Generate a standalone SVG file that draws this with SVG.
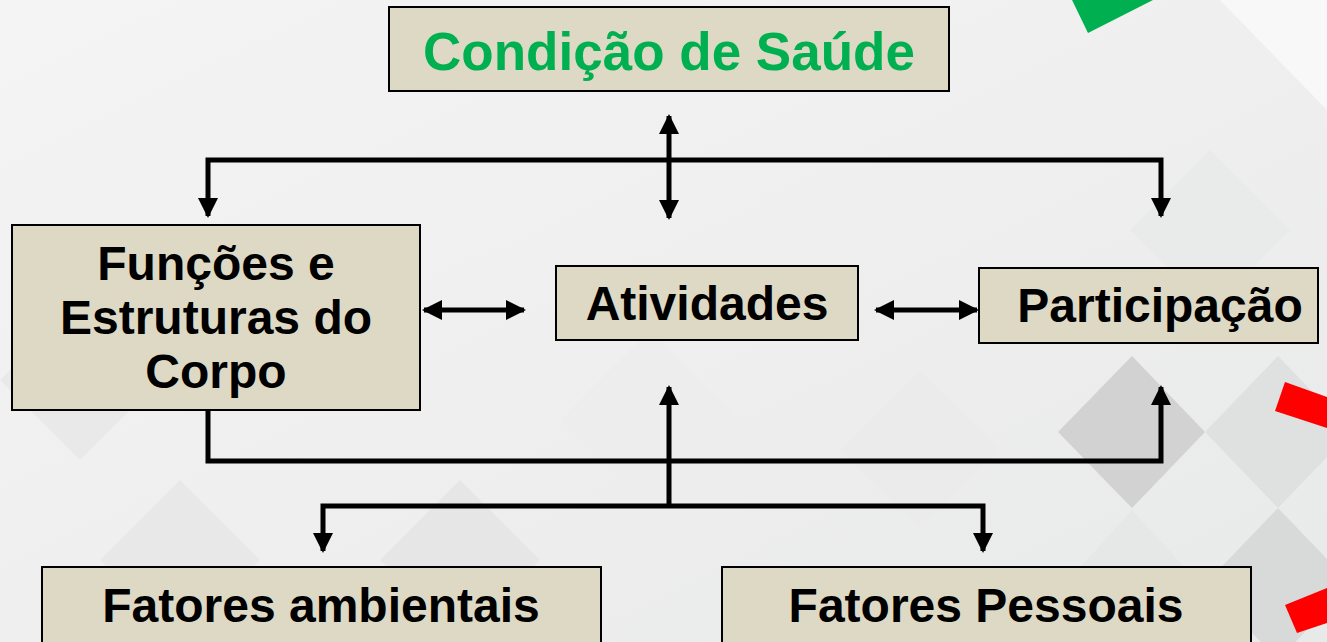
<svg xmlns="http://www.w3.org/2000/svg" width="1327" height="642" viewBox="0 0 1327 642">
<defs>
<style>
.box{fill:#ddd9c4;stroke:#000;stroke-width:2}
.t{font-family:"Liberation Sans",Arial,sans-serif;font-weight:bold;font-size:48px;fill:#000;text-anchor:middle}
.line{fill:none;stroke:#000;stroke-width:5;stroke-linejoin:miter;stroke-linecap:butt}
</style>
<marker id="ah" viewBox="0 0 10 10" refX="9" refY="5" markerWidth="4" markerHeight="4" orient="auto-start-reverse" markerUnits="strokeWidth">
<path d="M0,0 L10,5 L0,10 z" fill="#000"/>
</marker>
<linearGradient id="bg" x1="0" y1="0" x2="1" y2="1">
<stop offset="0" stop-color="#f4f4f4"/>
<stop offset="0.5" stop-color="#efefef"/>
<stop offset="1" stop-color="#e8e9e9"/>
</linearGradient>
</defs>
<rect width="1327" height="642" fill="url(#bg)"/>
<g id="background" stroke="none">
<polygon points="1058,432 1132,356 1205,432 1132,508" fill="#d2d2d2"/>
<polygon points="1205,432 1278,356 1351,432 1278,508" fill="#dfe0e0"/>
<polygon points="1205,584 1278,508 1351,584 1278,660" fill="#d8dada"/>
<polygon points="1060,590 1132,510 1205,590 1132,670" fill="#e6e7e7"/>
<polygon points="1130,230 1210,150 1290,230 1210,310" fill="#e9eaea"/>
<polygon points="380,560 460,480 540,560 460,640" fill="#e6e6e6"/>
<polygon points="100,560 180,480 260,560 180,640" fill="#e8e8e8"/>
<polygon points="560,420 650,330 740,420 650,510" fill="#ededed"/>
<polygon points="0,380 80,300 160,380 80,460" fill="#e9e9e9"/>
<polygon points="840,450 920,370 1000,450 920,530" fill="#ebebeb"/>
<polygon points="1220,0 1327,0 1327,110" fill="#f8f8f8"/>
<polygon points="1072,0 1088,33 1153,0" fill="#00b050"/>
<polygon points="1285,382 1327,397 1327,428 1275,411" fill="#ff0000"/>
<polygon points="1285,605 1327,588 1327,623 1297,633" fill="#ff0000"/>
</g>
<g id="connectors">
<line class="line" x1="669" y1="160" x2="669" y2="116" marker-end="url(#ah)"/>
<line class="line" x1="669" y1="160" x2="669" y2="218" marker-end="url(#ah)"/>
<polyline class="line" points="208,216 208,160 1161,160 1161,216" marker-start="url(#ah)" marker-end="url(#ah)"/>
<line class="line" x1="424" y1="310" x2="524" y2="310" marker-start="url(#ah)" marker-end="url(#ah)"/>
<line class="line" x1="876" y1="310" x2="977" y2="310" marker-start="url(#ah)" marker-end="url(#ah)"/>
<polyline class="line" points="208,410 208,461 1161,461 1161,387" marker-end="url(#ah)"/>
<line class="line" x1="669" y1="506" x2="669" y2="387" marker-end="url(#ah)"/>
<polyline class="line" points="323,551 323,506 983,506 983,551" marker-start="url(#ah)" marker-end="url(#ah)"/>
</g>
<g id="node-condicao">
<rect class="box" x="389" y="7" width="560" height="84"/>
<text class="t" x="669" y="70" style="fill:#00b050;font-size:53px">Condição de Saúde</text>
</g>
<g id="node-funcoes">
<rect class="box" x="12" y="225" width="408" height="185"/>
<text class="t" x="216" y="280">Funções e</text>
<text class="t" x="216" y="334">Estruturas do</text>
<text class="t" x="216" y="388">Corpo</text>
</g>
<g id="node-atividades">
<rect class="box" x="556" y="266" width="302" height="74"/>
<text class="t" x="707" y="320">Atividades</text>
</g>
<g id="node-participacao">
<rect class="box" x="979" y="268" width="339" height="75"/>
<text class="t" x="1160" y="322">Participação</text>
</g>
<g id="node-ambientais">
<rect class="box" x="42" y="567" width="559" height="90"/>
<text class="t" x="321" y="622">Fatores ambientais</text>
</g>
<g id="node-pessoais">
<rect class="box" x="722" y="567" width="529" height="90"/>
<text class="t" x="986" y="622">Fatores Pessoais</text>
</g>
</svg>
